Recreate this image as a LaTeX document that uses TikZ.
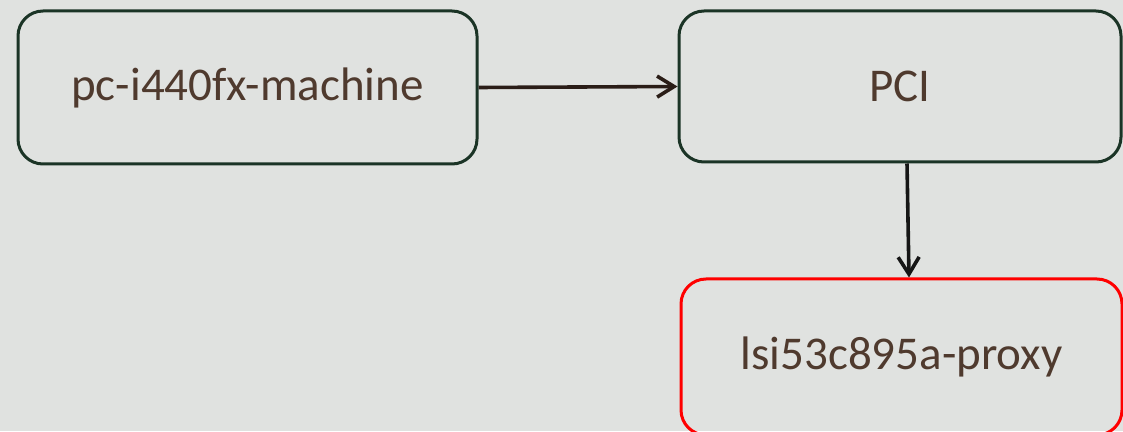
\documentclass[tikz,border=0pt]{standalone}
\usepackage{fontspec}
\setmainfont{Carlito}
\usetikzlibrary{arrows.meta}

\definecolor{bggray}{HTML}{E0E2E0}
\definecolor{boxgreen}{HTML}{1B3426}
\definecolor{textbrown}{HTML}{4F3A2E}
\definecolor{arrowbrown}{HTML}{2A1D17}
\definecolor{arrowblack}{HTML}{161616}

\begin{document}
\begin{tikzpicture}[x=1pt, y=1pt,
			mybox/.style={draw=boxgreen, line width=3pt, rounded corners=25pt, align=center, text=textbrown, font=\fontsize{47}{56}\selectfont},
			myarrow/.style={line width=3.6pt, -{Straight Barb[length=17pt, width=21pt, line width=3.6pt]}}
		]

		% background and frame
		\fill[bggray] (0,0) rectangle (1123,431);
		\clip (0,0) rectangle (1123,431);

		\node[mybox, minimum width=459pt, minimum height=153pt] (machine) at (247.5,343.5) {pc-i440fx-machine};
		\node[mybox, minimum width=442pt, minimum height=151pt] (pci) at (900,344.5) {PCI};
		\node[mybox, draw=red, minimum width=441pt, minimum height=156pt] (proxy) at (901.5,74) {lsi53c895a-proxy};

		\draw[myarrow, arrowbrown] (machine.east) -- (pci.west);
		\draw[myarrow, arrowblack] ([xshift=7pt]pci.south) -- ([xshift=7.5pt]proxy.north);
	\end{tikzpicture}
\end{document}
